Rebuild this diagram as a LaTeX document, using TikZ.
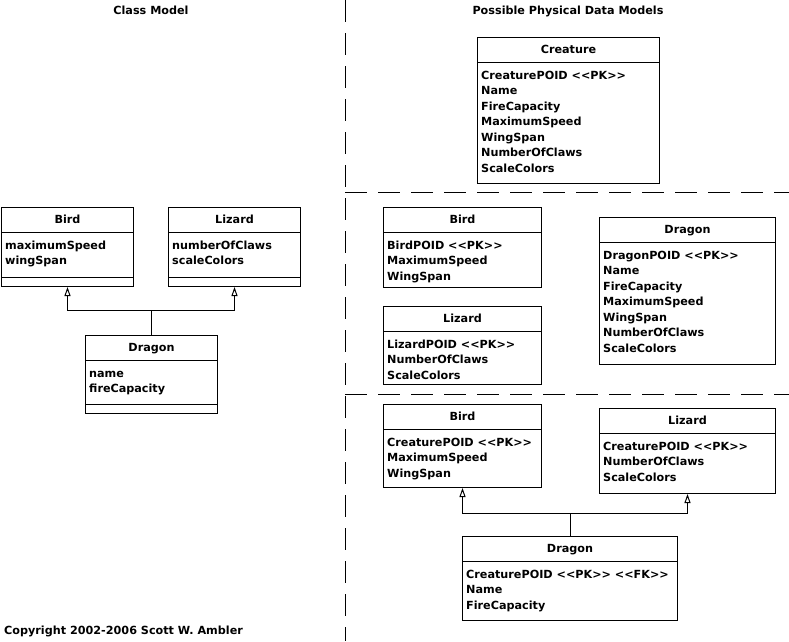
\documentclass[tikz,border=0pt]{standalone}
\usepackage{fontspec}
\setmainfont{DejaVu Sans}
\usetikzlibrary{calc, arrows.meta}
\newcommand\umlclass[7]{\node[classbox, minimum width=#4pt, minimum height=#5pt] (#1) at (#2,#3) {};
	\draw[classline] ($(#1.north west)+(0,25)$) -- ++(#4,0);
	\node[classtext, anchor=base] (#1-t) at ($(#1.north)+(0,16)$) {#6};
	\foreach \attr [count=\i] in {#7} {\node[classtext, anchor=base west] (#1-a\i) at ($(#1.north west)+(4,{26.5+15.5*\i})$) {\attr};}}
\newcommand\umlops[2]{\draw[classline] ($(#1.south west)+(0,-10)$) -- ++(#2,0);}
\newcommand\pk{<{}<PK>{}>}
\newcommand\fk{<{}<FK>{}>}

\begin{document}
\begin{tikzpicture}[x=1pt, y=-1pt, font=\fontsize{11.2}{13}\selectfont\bfseries,
	classbox/.style={draw, line width=1pt, anchor=north west, inner sep=0pt},
	classline/.style={line width=1pt},
	classtext/.style={inner sep=0pt},
	inherit/.style={line width=1pt, -{Triangle[open, length=9pt, width=6pt]}},
	divider/.style={line width=1pt, dash pattern=on 22pt off 11pt}]
\useasboundingbox (0,0) rectangle (789,641);
\node[classtext, anchor=base] (hclass) at (151,14) {Class Model};
\node[classtext, anchor=base] (hphys) at (568,14) {Possible Physical Data Models};
\draw[divider] (345,0) -- (345,641);
\draw[divider] (345,192) -- (789,192);
\draw[divider] (345,394) -- (789,394);

\umlclass{cbird}{1}{207}{132}{79}{Bird}{maximumSpeed, wingSpan}
	\umlops{cbird}{132}
\umlclass{clizard}{168}{207}{132}{79}{Lizard}{numberOfClaws, scaleColors}
	\umlops{clizard}{132}
\umlclass{cdragon}{85}{335}{132}{78}{Dragon}{name, fireCapacity}
	\umlops{cdragon}{132}
\draw[inherit] (cdragon.north) -- ++(0,-25) -| (cbird.south);
\draw[inherit] (cdragon.north) -- ++(0,-25) -| (clizard.south);

\umlclass{pcreature}{477}{37}{182}{146}{Creature}{CreaturePOID \pk, Name, FireCapacity, MaximumSpeed, WingSpan, NumberOfClaws, ScaleColors}

\umlclass{sbird}{383}{207}{158}{80}{Bird}{BirdPOID \pk, MaximumSpeed, WingSpan}
\umlclass{slizard}{383}{306}{158}{78}{Lizard}{LizardPOID \pk, NumberOfClaws, ScaleColors}
\umlclass{sdragon}{599}{217}{176}{147}{Dragon}{DragonPOID \pk, Name, FireCapacity, MaximumSpeed, WingSpan, NumberOfClaws, ScaleColors}

\umlclass{tbird}{383}{404}{158}{83}{Bird}{CreaturePOID \pk, MaximumSpeed, WingSpan}
\umlclass{tlizard}{599}{408}{176}{85}{Lizard}{CreaturePOID \pk, NumberOfClaws, ScaleColors}
\umlclass{tdragon}{462}{536}{215}{84}{Dragon}{CreaturePOID \pk\ \fk, Name, FireCapacity}
\draw[inherit] (tdragon.north) -- ++(0,-23) -| (tbird.south);
\draw[inherit] (tdragon.north) -- ++(0,-23) -| (tlizard.south);

\node[classtext, anchor=base west] (copyright) at (4,634) {Copyright 2002-2006 Scott W. Ambler};
\end{tikzpicture}
\end{document}
